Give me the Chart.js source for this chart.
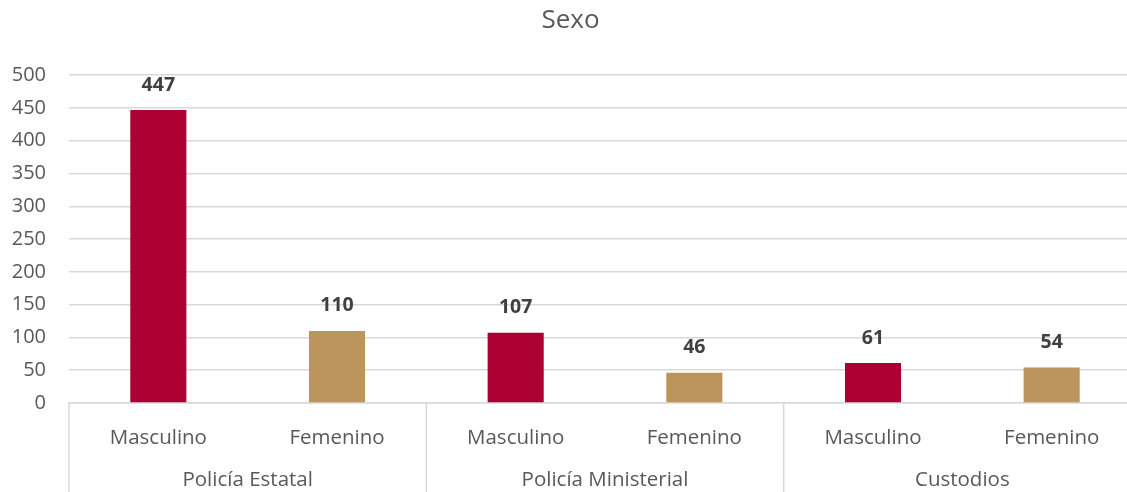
<!DOCTYPE html>
<html>
<head>
<meta charset="utf-8">
<script src="https://cdn.jsdelivr.net/npm/chart.js@4.4.1/dist/chart.umd.min.js"></script>
<style>
  html, body { margin: 0; padding: 0; background: #fff; overflow: hidden; }
  #wrap { width: 1160px; height: 492px; position: relative; }
</style>
</head>
<body>
<div id="wrap"><canvas id="sexoChart"></canvas></div>
<script>
// Data
const categories = ['Masculino', 'Femenino', 'Masculino', 'Femenino', 'Masculino', 'Femenino'];
const groups = ['Policía Estatal', 'Policía Ministerial', 'Custodios'];
const values = [447, 110, 107, 46, 61, 54];
const barColors = ['#AC0033', '#BC955C', '#AC0033', '#BC955C', '#AC0033', '#BC955C'];
const yTicks = [0, 50, 100, 150, 200, 250, 300, 350, 400, 450, 500];

const FONT = '"Open Sans", Lato, sans-serif';

// value labels above bars + group labels and separators under the axis
const extras = {
    id: 'extras',
    afterDatasetsDraw(chart) {
        const ctx = chart.ctx;
        const meta = chart.getDatasetMeta(0);
        ctx.save();
        ctx.fillStyle = '#404040';
        ctx.font = 'bold 19.5px ' + FONT;
        ctx.textAlign = 'center';
        ctx.textBaseline = 'middle';
        meta.data.forEach((bar, i) => {
            ctx.fillText(values[i], bar.x, bar.y - 25);
        });
        ctx.restore();
    },
    afterDraw(chart) {
        const ctx = chart.ctx;
        const x = chart.scales.x;
        const area = chart.chartArea;
        ctx.save();
        ctx.strokeStyle = '#d9d9d9';
        ctx.lineWidth = 1.5;
        // separators between groups (and left edge)
        for (let g = 0; g <= groups.length; g++) {
            let px;
            if (g === 0) px = area.left;
            else if (g === groups.length) px = area.right;
            else px = (x.getPixelForValue(g * 2 - 1) + x.getPixelForValue(g * 2)) / 2;
            ctx.beginPath();
            ctx.moveTo(px, area.bottom);
            ctx.lineTo(px, chart.height);
            ctx.stroke();
        }
        ctx.fillStyle = '#595959';
        ctx.font = '20.5px ' + FONT;
        ctx.textAlign = 'center';
        ctx.textBaseline = 'middle';
        groups.forEach((name, g) => {
            const cx = (x.getPixelForValue(g * 2) + x.getPixelForValue(g * 2 + 1)) / 2;
            ctx.fillText(name, cx, area.bottom + 77);
        });
        ctx.restore();
    }
};

new Chart(document.getElementById('sexoChart'), {
    type: 'bar',
    data: {
        labels: categories,
        datasets: [{
            data: values,
            backgroundColor: barColors,
            borderWidth: 0,
            categoryPercentage: 1,
            barPercentage: 0.314
        }]
    },
    options: {
        responsive: true,
        maintainAspectRatio: false,
        animation: false,
        layout: { padding: { top: 0, right: 19, bottom: 0, left: 0 } },
        plugins: {
            legend: { display: false },
            tooltip: { enabled: false },
            title: {
                display: true,
                text: 'Sexo',
                color: '#595959',
                font: { family: FONT, size: 26, weight: 'normal' },
                padding: { top: 5, bottom: 39 }
            }
        },
        scales: {
            x: {
                grid: { display: false },
                border: { display: true, color: '#d9d9d9', width: 1.5 },
                ticks: {
                    color: '#595959',
                    font: { family: FONT, size: 20.5 },
                    padding: 15,
                    maxRotation: 0,
                    autoSkip: false
                },
                afterFit(scale) { scale.height = 89; }
            },
            y: {
                min: 0,
                max: 500,
                afterBuildTicks(scale) { scale.ticks = yTicks.map(v => ({ value: v })); },
                grid: { color: '#d9d9d9', lineWidth: 1.5, drawTicks: false },
                border: { display: false },
                ticks: {
                    color: '#595959',
                    font: { family: FONT, size: 20 },
                    padding: 23
                },
                afterFit(scale) { scale.width = 69; }
            }
        }
    },
    plugins: [extras]
});
</script>
</body>
</html>
